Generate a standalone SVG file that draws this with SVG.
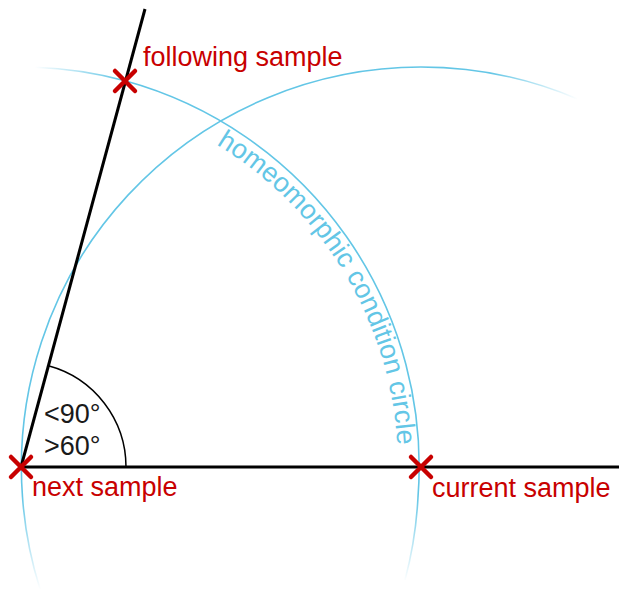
<svg xmlns="http://www.w3.org/2000/svg" xmlns:xlink="http://www.w3.org/1999/xlink" width="619" height="592" viewBox="0 0 619 592">
  <style>
    .lbl { font-family: "Liberation Sans", Arial, sans-serif; font-size: 27px; }
    .red { fill: #c80000; }
    .blk { fill: #1a1a1a; }
    .blue { fill: #63c6e6; }
    .mark { stroke: #c80000; stroke-width: 4.5; fill: none; stroke-linecap: round; }
    .arc { fill: none; stroke-width: 1.6; }
    .ray { stroke: #000; stroke-width: 3; fill: none; }
  </style>
  <defs>
    <linearGradient id="gA1" gradientUnits="userSpaceOnUse" x1="35" y1="0" x2="120" y2="0">
      <stop offset="0" stop-color="#63c6e6" stop-opacity="0"/>
      <stop offset="1" stop-color="#63c6e6" stop-opacity="1"/>
    </linearGradient>
    <linearGradient id="gA2" gradientUnits="userSpaceOnUse" x1="0" y1="495" x2="0" y2="582">
      <stop offset="0" stop-color="#63c6e6" stop-opacity="1"/>
      <stop offset="1" stop-color="#63c6e6" stop-opacity="0"/>
    </linearGradient>
    <linearGradient id="gB1" gradientUnits="userSpaceOnUse" x1="490" y1="0" x2="578" y2="0">
      <stop offset="0" stop-color="#63c6e6" stop-opacity="1"/>
      <stop offset="1" stop-color="#63c6e6" stop-opacity="0"/>
    </linearGradient>
    <linearGradient id="gB2" gradientUnits="userSpaceOnUse" x1="0" y1="495" x2="0" y2="590">
      <stop offset="0" stop-color="#63c6e6" stop-opacity="1"/>
      <stop offset="1" stop-color="#63c6e6" stop-opacity="0"/>
    </linearGradient>
    <path id="textArc" d="M216.3,144.5 A377,377 0 0,1 392.3,532.5"/>
  </defs>

  <g id="connectors">
    <!-- homeomorphic condition circle around next sample -->
    <g id="circle-next">
      <path class="arc" stroke="url(#gA1)" d="M35,67.3 A400,400 0 0,1 125,80.8"/>
      <path class="arc" stroke="#63c6e6" d="M125,80.8 A400,400 0 0,1 418,497"/>
      <path class="arc" stroke="url(#gA2)" d="M418,497 A400,400 0 0,1 405,580"/>
    </g>
    <!-- circle around current sample -->
    <g id="circle-current">
      <path class="arc" stroke="url(#gB1)" d="M421,67 A400,400 0 0,1 577,98.7"/>
      <path class="arc" stroke="#63c6e6" d="M421,67 A400,400 0 0,0 22.5,497"/>
      <path class="arc" stroke="url(#gB2)" d="M22.5,497 A400,400 0 0,0 40,589"/>
    </g>
    <line class="ray" x1="21" y1="467" x2="619" y2="467"/>
    <line class="ray" x1="21" y1="467" x2="145" y2="9"/>
    <path d="M126,467 A105,105 0 0,0 48.4,365.7" fill="none" stroke="#000" stroke-width="1.5"/>
  </g>

  <g id="circle-label">
    <text class="lbl blue"><textPath xlink:href="#textArc" href="#textArc">homeomorphic condition circle</textPath></text>
  </g>

  <g id="angle-label">
    <text class="lbl blk" x="44" y="423">&lt;90°</text>
    <text class="lbl blk" x="44" y="455">&gt;60°</text>
  </g>

  <g id="next-sample">
    <path class="mark" d="M11,457 L31,477 M31,457 L11,477"/>
    <text class="lbl red" x="32" y="496">next sample</text>
  </g>

  <g id="current-sample">
    <path class="mark" d="M411,457 L431,477 M431,457 L411,477"/>
    <text class="lbl red" x="432" y="497">current sample</text>
  </g>

  <g id="following-sample">
    <path class="mark" d="M115,71 L135,91 M135,71 L115,91"/>
    <text class="lbl red" x="143" y="66">following sample</text>
  </g>
</svg>
